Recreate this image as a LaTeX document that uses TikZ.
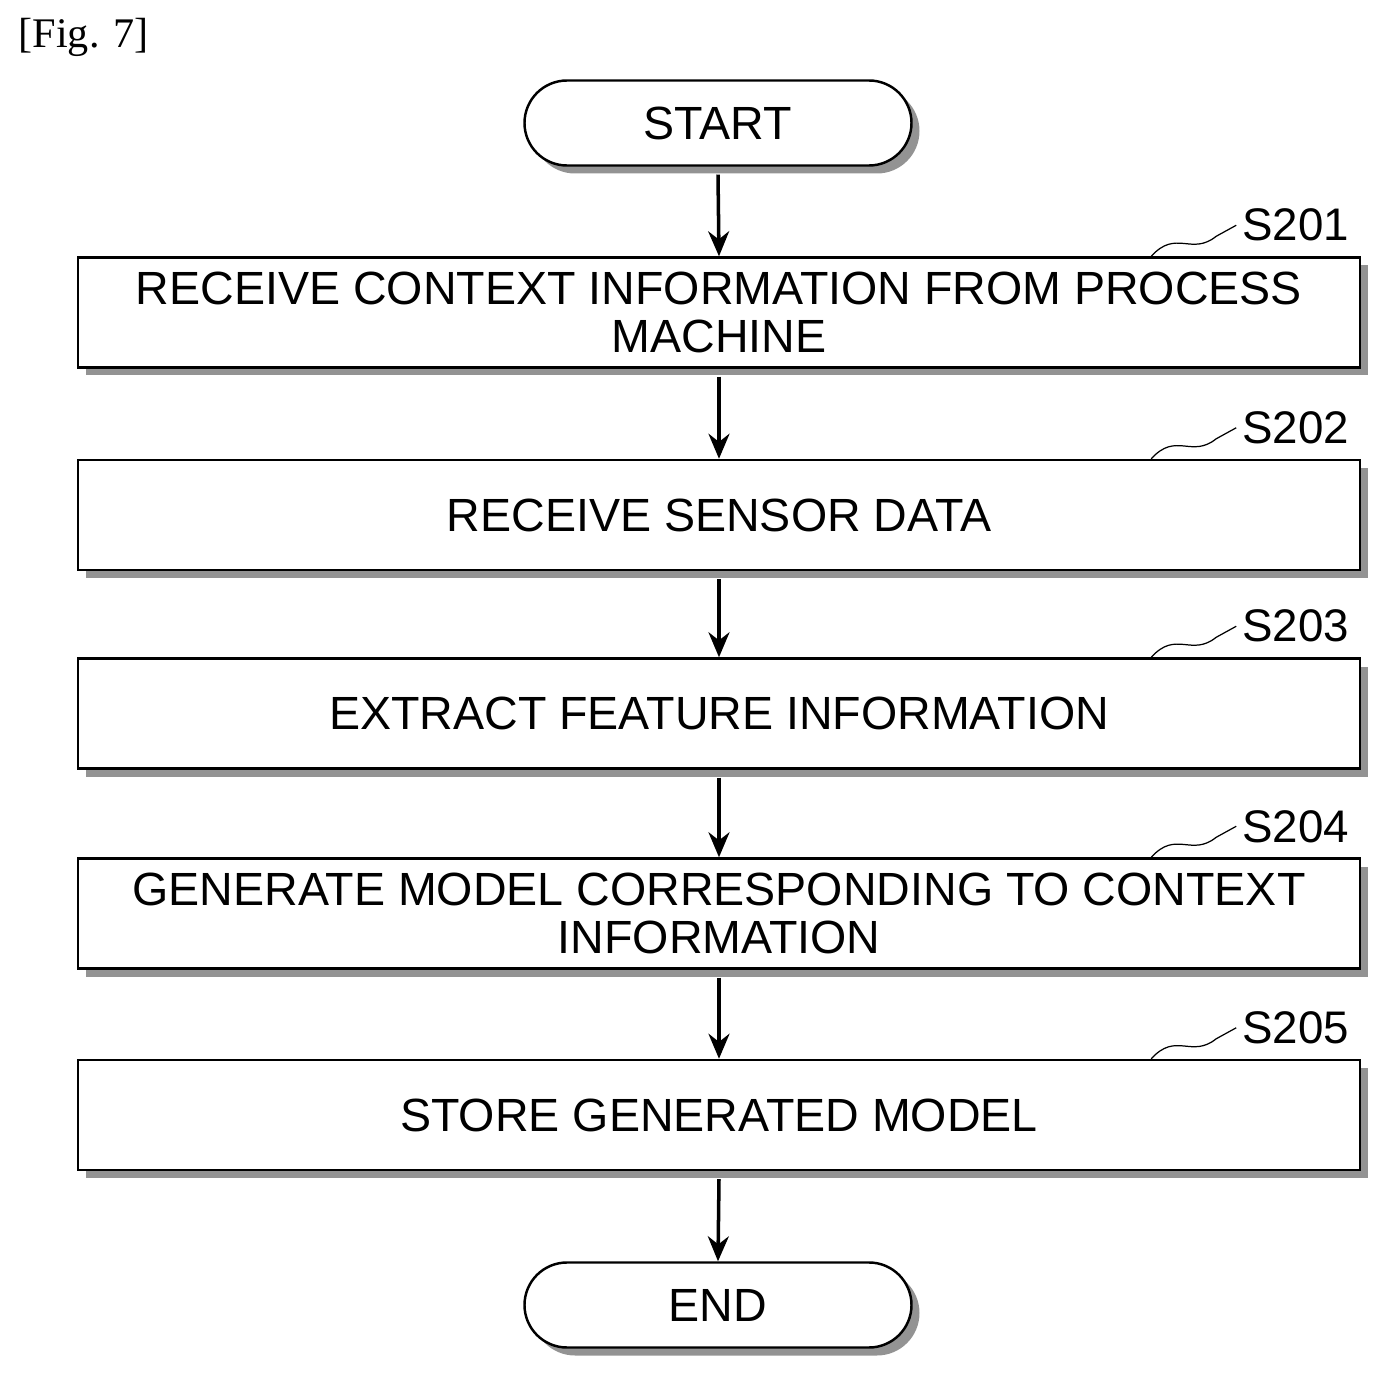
\documentclass[tikz,border=0pt]{standalone}
\usepackage{fontspec}
\setmainfont{Liberation Serif}
\setsansfont{Liberation Sans}
\usetikzlibrary{positioning,shadows,arrows.meta}

\begin{document}
\begin{tikzpicture}
                    [>={Stealth[length=0.5cm,width=0.42cm]},
                     stepbox/.style={draw,line width=1.4pt,fill=white,minimum width=25.64cm,minimum height=2.2cm,
                        align=center,font=\sffamily\fontsize{26.5}{27}\selectfont,
                        drop shadow={shadow xshift=0.16cm,shadow yshift=-0.16cm,fill=gray!85,opacity=1}},
                     term/.style={stepbox,minimum width=7.74cm,minimum height=1.7cm,rounded corners=0.85cm},
                     tag/.style={font=\sffamily\fontsize{26}{27}\selectfont,anchor=west}]

                    \useasboundingbox (0,0) rectangle (27.9,-27.66);
                    \node[anchor=north west,font=\fontsize{24}{26}\selectfont] at (0.25,-0.25) {[Fig. 7]};

                    \node[term] (start) at (14.36,-2.46) {START};
                    \node[stepbox] (s1) at (14.38,-6.25) {RECEIVE CONTEXT INFORMATION FROM PROCESS\\MACHINE};
                    \node[stepbox] (s2) at (14.38,-10.3) {RECEIVE SENSOR DATA};
                    \node[stepbox] (s3) at (14.38,-14.27) {EXTRACT FEATURE INFORMATION};
                    \node[stepbox] (s4) at (14.38,-18.27) {GENERATE MODEL CORRESPONDING TO CONTEXT\\INFORMATION};
                    \node[stepbox] (s5) at (14.38,-22.3) {STORE GENERATED MODEL};
                    \node[term] (end) at (14.36,-26.1) {END};

                    % connectors
                    \foreach \a/\b in {start/s1,s1/s2,s2/s3,s3/s4,s4/s5,s5/end}
                        \draw[->,line width=2pt] ([yshift=-0.16cm]\a.south) -- (\b.north);

                    % step labels
                    \foreach \n/\t in {s1/S201,s2/S202,s3/S203,s4/S204,s5/S205}{
                        \node[tag] (\n t) at ([xshift=-2.5cm,yshift=0.62cm]\n.north east) {\t};
                        \draw[line width=0.7pt] ([xshift=-4.2cm]\n.north east) .. controls +(0.5,0.55) and +(-0.5,-0.4) .. ([xshift=-2.9cm,yshift=0.4cm]\n.north east) -- (\n t.west);
                    }
                \end{tikzpicture}
\end{document}
